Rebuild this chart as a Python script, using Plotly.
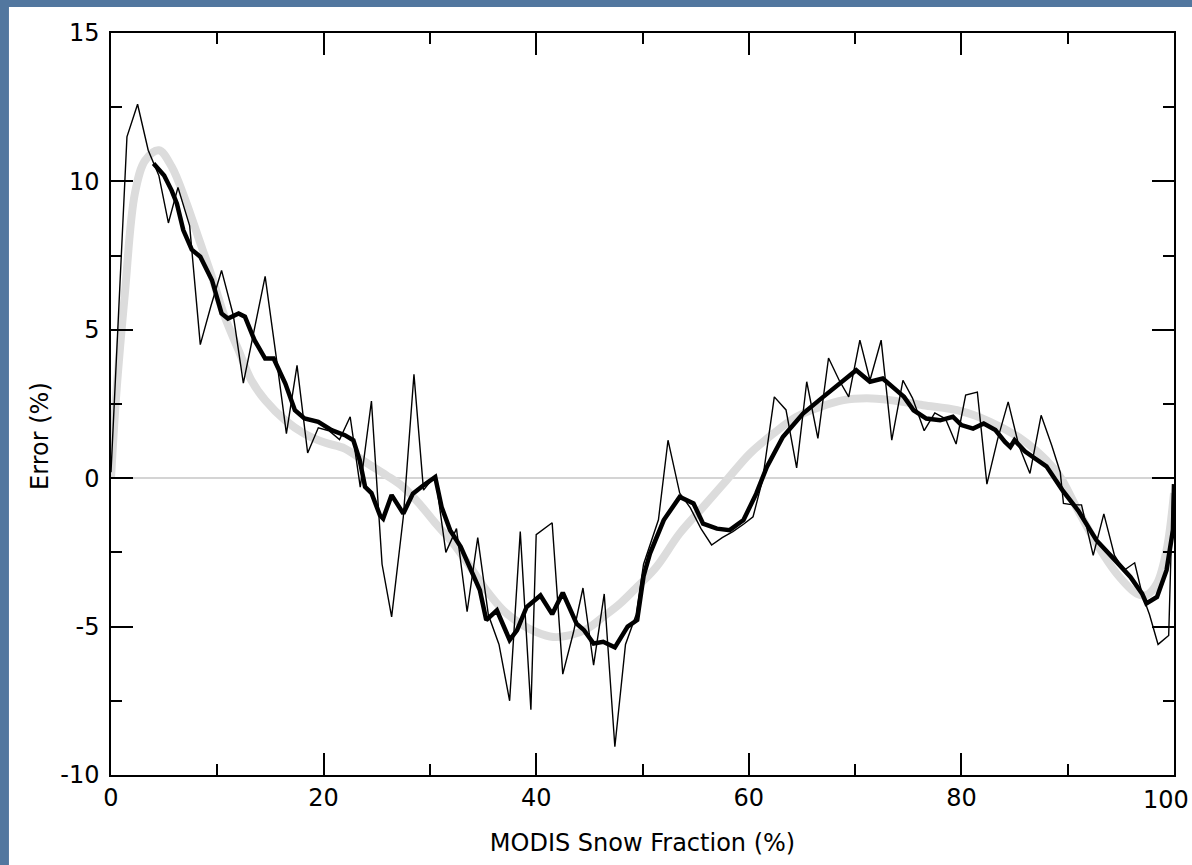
import plotly.graph_objects as go

# ---- data ----
thin_x = [0, 0.5, 1.5, 2.5, 3.5, 4.5, 5.4, 6.3, 7.4, 8.4, 9.4, 10.4, 11.5, 12.45, 13.5, 14.5, 15.5, 16.5,
          17.5, 18.5, 19.5, 20.5, 21.5, 22.5, 23.45, 24.5, 25.5, 26.4, 27.5, 28.5, 29.4, 30.5, 31.5, 32.5,
          33.5, 34.5, 35.5, 36.5, 37.5, 38.5, 39.5, 40.0, 41.5, 42.5, 43.5, 44.4, 45.4, 46.4, 47.4, 48.4,
          49.4, 50.1, 51.5, 52.4, 53.5, 54.5, 55.5, 56.5, 57.5, 58.5, 59.5, 60.4, 61.3, 62.4, 63.5, 64.5,
          65.45, 66.5, 67.5, 68.5, 69.4, 70.45, 71.4, 72.45, 73.45, 74.5, 75.4, 76.5, 77.5, 78.5, 79.5,
          80.4, 81.5, 82.4, 83.4, 84.4, 85.4, 86.45, 87.5, 88.5, 89.3, 89.6, 90.5, 91.3, 92.4, 93.4, 94.4,
          95.3, 96.3, 97.0, 97.7, 98.5, 99.5, 99.9]
thin_y = [0.2, 3.9, 11.5, 12.6, 11.05, 10.2, 8.6, 9.8, 8.5, 4.5, 5.8, 7.0, 5.5, 3.2, 5.0, 6.8, 4.2, 1.5,
          3.8, 0.85, 1.7, 1.6, 1.3, 2.07, -0.3, 2.6, -2.9, -4.67, -1.3, 3.5, -0.4, 0.1, -2.5, -1.7,
          -4.5, -2.0, -4.6, -5.6, -7.5, -1.8, -7.8, -1.9, -1.5, -6.6, -5.2, -3.7, -6.3, -3.9, -9.05, -5.6,
          -4.6, -2.9, -1.4, 1.28, -0.5, -1.0, -1.7, -2.25, -2.0, -1.8, -1.55, -1.3, -0.05, 2.74, 2.3, 0.35,
          3.25, 1.34, 4.05, 3.3, 2.74, 4.65, 3.3, 4.65, 1.28, 3.3, 2.7, 1.6, 2.2, 2.0, 1.15,
          2.8, 2.9, -0.2, 1.3, 2.57, 1.1, 0.16, 2.12, 1.1, 0.2, -0.85, -0.9, -0.9, -2.6, -1.2, -2.6,
          -3.1, -2.85, -3.9, -4.6, -5.6, -5.3, -0.2]

thick_x = [4.0, 5.0, 5.7, 6.2, 6.8, 7.6, 8.4, 9.5, 10.4, 11.0, 12.0, 12.6, 13.5, 14.5, 15.3, 16.4, 17.3,
           18.2, 19.5, 20.75, 22.0, 22.8, 23.4, 23.9, 24.5, 25.3, 25.6, 26.4, 27.5, 28.4, 29.4, 30.5, 31.1,
           31.9, 32.9, 33.9, 34.7, 35.3, 36.3, 37.5, 38.2, 39.1, 40.4, 41.5, 42.5, 43.8, 44.5, 45.4, 46.3,
           47.4, 48.6, 49.5, 50.1, 50.7, 52.0, 53.5, 54.8, 55.7, 57.0, 58.2, 59.5, 60.7, 61.7, 63.2, 65.1,
           67.0, 68.6, 70.1, 71.4, 72.6, 73.9, 74.6, 75.5, 76.7, 78.0, 79.2, 80.0, 81.1, 82.1, 83.2, 84.1,
           84.6, 85.0, 86.0, 88.0, 89.5, 91.0, 92.7, 94.6, 95.9, 97.0, 97.4, 98.4, 99.3, 99.9, 100]
thick_y = [10.6, 10.2, 9.7, 9.25, 8.36, 7.7, 7.46, 6.67, 5.55, 5.38, 5.55, 5.44, 4.65, 4.03, 4.03, 3.19, 2.29,
           2.01, 1.9, 1.62, 1.45, 1.28, 0.6, -0.29, -0.5, -1.25, -1.36, -0.57, -1.19, -0.52, -0.24, 0.04, -0.97,
           -1.75, -2.31, -3.1, -3.77, -4.78, -4.45, -5.45, -5.12, -4.34, -3.95, -4.58, -3.86, -4.9, -5.12, -5.57, -5.51,
           -5.7, -5.0, -4.78, -3.3, -2.54, -1.41, -0.63, -0.85, -1.53, -1.7, -1.75, -1.41, -0.52, 0.38, 1.39, 2.18,
           2.74, 3.19, 3.64, 3.25, 3.36, 2.96, 2.74, 2.29, 2.01, 1.95, 2.07, 1.79, 1.67, 1.84, 1.62, 1.22,
           1.05, 1.28, 0.9, 0.4, -0.4, -1.1, -2.09, -2.82, -3.33, -3.89, -4.22, -4.0, -3.1, -1.75, -0.2]

fit_x = [0, 0.5, 1.3, 2.25, 3.2, 4.5, 5.7, 7.0, 8.2, 9.5, 10.7, 12.0, 13.2, 14.5, 16.4, 18.2, 20.1, 22.0,
         23.9, 25.9, 27.5, 29.1, 30.6, 32.2, 33.8, 35.3, 36.9, 38.5, 40.0, 41.6, 43.2, 44.8, 46.3, 47.9,
         49.5, 51.3, 53.5, 55.7, 57.9, 60.1, 62.3, 64.5, 66.7, 68.9, 71.1, 73.3, 76.4, 79.6, 82.7, 85.8,
         88.0, 89.3, 90.8, 92.7, 94.6, 96.5, 97.4, 98.4, 99.3, 100]
fit_y = [0.0, 2.85, 6.2, 9.6, 10.7, 11.05, 10.5, 9.37, 8.13, 6.78, 5.44, 4.31, 3.3, 2.63, 1.95, 1.5, 1.2, 1.0,
         0.55, 0.1, -0.3, -0.9, -1.55, -2.2, -2.99, -3.77, -4.45, -4.9, -5.18, -5.35, -5.29, -5.07, -4.67, -4.22,
         -3.66, -2.99, -1.86, -0.97, -0.07, 0.83, 1.5, 2.07, 2.4, 2.63, 2.69, 2.63, 2.46, 2.29, 1.9, 1.28,
         0.6, 0.04, -0.97, -2.2, -3.21, -3.89, -3.94, -3.55, -2.43, -0.5]

x_ticks = [0, 20, 40, 60, 80, 100]
x_labels = ["0", "20", "40", "60", "80", ""]   # "100" is placed as an annotation so it stays inside the page
last_x_label = "100"
y_ticks = [-10, -5, 0, 5, 10, 15]
y_labels = ["-10", "-5", "0", "5", "10", "15"]

FONT = "DejaVu Sans, Arial, sans-serif"

fig = go.Figure()
fig.add_trace(go.Scatter(x=fit_x, y=fit_y, mode="lines", line_shape="spline",
                         line=dict(color="#dcdcdc", width=8), showlegend=False))
fig.add_trace(go.Scatter(x=thick_x, y=thick_y, mode="lines",
                         line=dict(color="black", width=4.5), showlegend=False))
fig.add_trace(go.Scatter(x=thin_x, y=thin_y, mode="lines",
                         line=dict(color="black", width=1.4), showlegend=False))

axis_common = dict(showgrid=False, showline=True, linecolor="black", linewidth=1.5,
                   mirror="allticks", ticks="inside", ticklen=22, tickwidth=1.5, tickcolor="black",
                   ticklabeloverflow="allow", automargin=False,
                   tickfont=dict(family=FONT, size=24, color="black"))

fig.update_xaxes(range=[0, 100], tickvals=x_ticks, ticktext=x_labels, zeroline=False,
                 minor=dict(dtick=10, ticklen=11, tickwidth=1.5, tickcolor="black", ticks="inside"),
                 title=dict(text="MODIS Snow Fraction (%)", font=dict(family=FONT, size=24, color="black"),
                            standoff=24),
                 **axis_common)
fig.update_yaxes(range=[-10, 15], tickvals=y_ticks, ticktext=y_labels, zeroline=True,
                 zerolinecolor="#d4d4d4", zerolinewidth=2, ticklabelstandoff=5,
                 minor=dict(dtick=2.5, ticklen=11, tickwidth=1.5, tickcolor="black", ticks="inside"),
                 **axis_common)

fig.add_annotation(x=100, xref="x", y=0, yref="paper", text=last_x_label, showarrow=False,
                   xanchor="right", yanchor="top", xshift=17, yshift=-9,
                   font=dict(family=FONT, size=24, color="black"))
fig.add_annotation(x=0, xref="paper", y=0.457, yref="paper", text="Error (%)", showarrow=False,
                   textangle=-90, xanchor="center", yanchor="middle", xshift=-71,
                   font=dict(family=FONT, size=24, color="black"))

# white slide panel over blue background
fig.add_shape(type="rect", xref="paper", yref="paper", x0=-0.096, x1=1.02, y0=-0.125, y1=1.035,
              fillcolor="white", line=dict(width=0), layer="below")

fig.update_layout(width=1192, height=865, margin=dict(l=111, r=18, t=33, b=90, autoexpand=False),
                  paper_bgcolor="#52779f", plot_bgcolor="white", autosize=False,
                  font=dict(family=FONT, color="black"))

fig.write_html(
    "out.html",
    config={"responsive": False, "displayModeBar": False},
    post_script=(
        "document.documentElement.style.overflow='hidden';"
        "document.body.style.overflow='hidden';"
        "document.body.style.margin='0';"
    ),
)
